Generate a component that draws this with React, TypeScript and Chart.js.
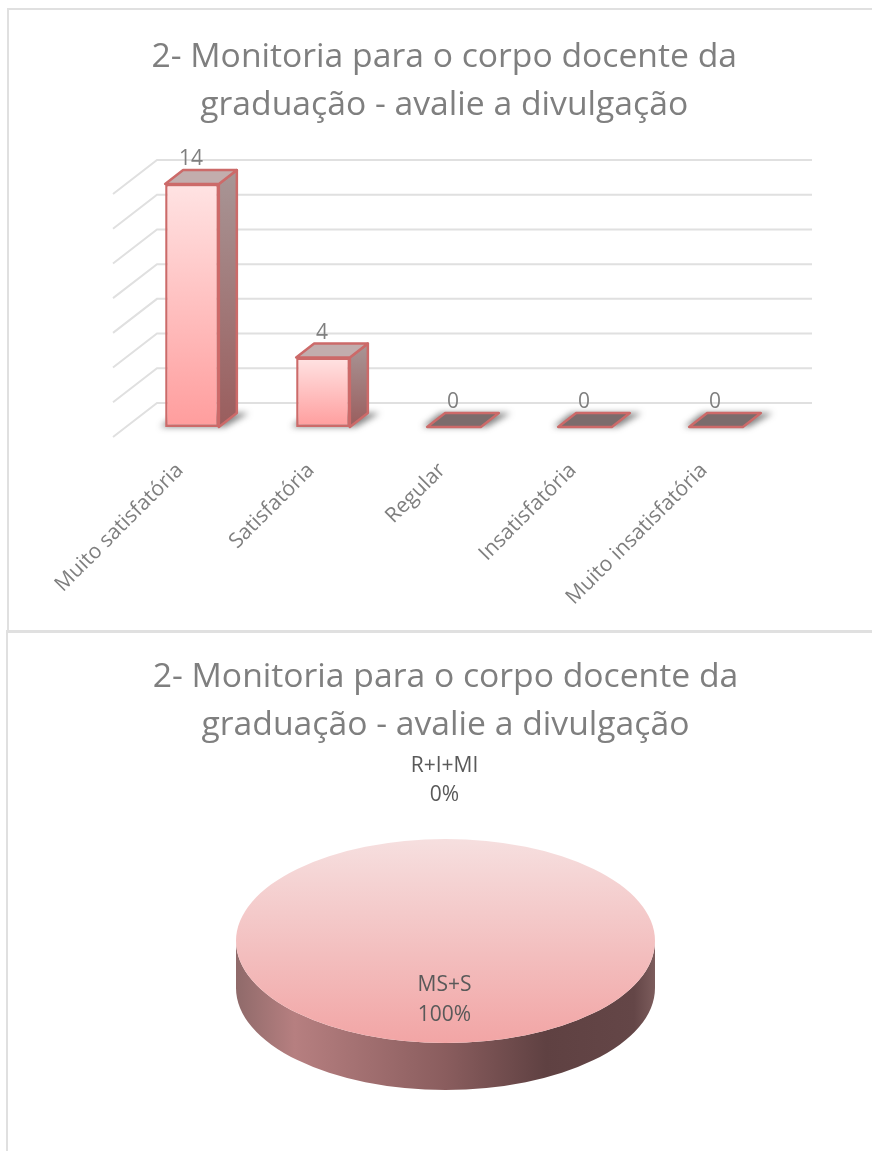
import React, { useEffect, useRef } from "react";
import { Chart, registerables } from "chart.js";

Chart.register(...registerables);

const titleLines = ["2- Monitoria para o corpo docente da", "graduação - avalie a divulgação"];
const categories = ["Muito satisfatória", "Satisfatória", "Regular", "Insatisfatória", "Muito insatisfatória"];
const counts = [14, 4, 0, 0, 0];
const pieLabels = ["MS+S", "R+I+MI"];
const pieValues = [100, 0];

const FONT = "'Open Sans', sans-serif";
const TITLE_COLOR = "#7f7f7f";
const BAR_EDGE = "#cc6a69";
const DEPTH_X = 18;
const DEPTH_Y = 14;
const WALL_X = 30.5;
const WALL_Y = 24;

function poly(ctx: CanvasRenderingContext2D, pts: number[][]) {
  ctx.beginPath();
  pts.forEach((p, i) => (i ? ctx.lineTo(p[0], p[1]) : ctx.moveTo(p[0], p[1])));
  ctx.closePath();
}

const bar3d = {
  id: "bar3d",
  beforeDatasetsDraw(chart: any) {
    const { ctx, chartArea, scales } = chart;
    const left = chartArea.left + WALL_X;
    const right = chartArea.right + WALL_X;
    ctx.save();
    ctx.strokeStyle = "#e0e0e0";
    ctx.lineWidth = 2;
    scales.y.ticks.forEach((t: any) => {
      const y = scales.y.getPixelForValue(t.value) - WALL_Y;
      ctx.beginPath();
      ctx.moveTo(left - 44, y + 34);
      ctx.lineTo(left, y);
      ctx.lineTo(right, y);
      ctx.stroke();
    });
    const meta = chart.getDatasetMeta(0);
    const halfW = meta.data[0].width / 2;
    meta.data.forEach((el: any, i: number) => {
      const x0 = el.x - halfW;
      const x1 = el.x + halfW;
      const top = scales.y.getPixelForValue(counts[i]);
      const base = scales.y.getPixelForValue(0);
      ctx.save();
      ctx.filter = "blur(3px)";
      ctx.fillStyle = "rgba(50,50,50,0.6)";
      poly(ctx, [[x0 - 5, base], [x1 + 6, base], [x1 + DEPTH_X + 12, base - DEPTH_Y], [x0 + DEPTH_X - 5, base - DEPTH_Y]]);
      ctx.fill();
      ctx.restore();

      ctx.lineJoin = "round";
      ctx.lineWidth = 2.5;
      ctx.strokeStyle = BAR_EDGE;
      if (counts[i] > 0) {
        const g = ctx.createLinearGradient(0, top - DEPTH_Y, 0, base);
        g.addColorStop(0, "#a89696");
        g.addColorStop(1, "#9a5d5d");
        ctx.fillStyle = g;
        poly(ctx, [[x1, top], [x1 + DEPTH_X, top - DEPTH_Y], [x1 + DEPTH_X, base - DEPTH_Y], [x1, base]]);
        ctx.fill();
        ctx.stroke();
      }
      ctx.fillStyle = counts[i] > 0 ? "#c2adad" : "#7b6c6c";
      poly(ctx, [[x0, top], [x1, top], [x1 + DEPTH_X, top - DEPTH_Y], [x0 + DEPTH_X, top - DEPTH_Y]]);
      ctx.fill();
      ctx.stroke();
    });
    ctx.restore();
  },
  afterDatasetsDraw(chart: any) {
    const { ctx, scales } = chart;
    const meta = chart.getDatasetMeta(0);
    ctx.save();
    ctx.font = `21px ${FONT}`;
    ctx.fillStyle = TITLE_COLOR;
    ctx.textAlign = "center";
    ctx.textBaseline = "middle";
    meta.data.forEach((el: any, i: number) => {
      ctx.fillText(String(counts[i]), el.x - 1, scales.y.getPixelForValue(counts[i]) - 25);
    });
    ctx.restore();
  },
};

const PIE_DEPTH = 47;
const PIE_FLAT = 102 / 209.5;

const pie3d = {
  id: "pie3d",
  beforeDatasetDraw(chart: any) {
    const { ctx } = chart;
    const arc = chart.getDatasetMeta(0).data[0];
    const { x, y, outerRadius: r } = arc;
    const ry = r * PIE_FLAT;
    ctx.save();
    const g = ctx.createLinearGradient(x - r, 0, x + r, 0);
    g.addColorStop(0, "#8f6a6a");
    g.addColorStop(0.14, "#b67f80");
    g.addColorStop(0.5, "#8a5d5e");
    g.addColorStop(0.74, "#5f4142");
    g.addColorStop(0.95, "#644647");
    g.addColorStop(1, "#7c5c5c");
    ctx.fillStyle = g;
    ctx.beginPath();
    ctx.ellipse(x, y, r, ry, 0, Math.PI, 0, true);
    ctx.lineTo(x + r, y + PIE_DEPTH);
    ctx.ellipse(x, y + PIE_DEPTH, r, ry, 0, 0, Math.PI);
    ctx.closePath();
    ctx.fill();
    ctx.restore();
    ctx.save();
    ctx.translate(x, y);
    ctx.scale(1, PIE_FLAT);
    ctx.translate(-x, -y);
  },
  afterDatasetDraw(chart: any) {
    const { ctx } = chart;
    ctx.restore();
    const { x, y } = chart.getDatasetMeta(0).data[0];
    ctx.save();
    ctx.font = `21px ${FONT}`;
    ctx.fillStyle = "#595959";
    ctx.textAlign = "center";
    ctx.textBaseline = "middle";
    const slots = [[44, 74], [-175, -146]];
    pieLabels.forEach((label, i) => {
      ctx.fillText(label, x - 1, y + slots[i][0]);
      ctx.fillText(`${pieValues[i]}%`, x - 1, y + slots[i][1]);
    });
    ctx.restore();
  },
};

function titleOption(top: number, bottom: number) {
  return {
    display: true,
    text: titleLines,
    color: TITLE_COLOR,
    font: { family: FONT, size: 33.7, weight: "normal" as const, lineHeight: 48 / 33.7 },
    padding: { top, bottom },
  };
}

const SOFT = "blur(0.4px)";

export default function App() {
  const barRef = useRef<HTMLCanvasElement>(null);
  const pieRef = useRef<HTMLCanvasElement>(null);

  useEffect(() => {
    const bar = new Chart(barRef.current!, {
      type: "bar",
      data: {
        labels: categories,
        datasets: [
          {
            data: counts,
            categoryPercentage: 0.41,
            barPercentage: 1,
            borderColor: BAR_EDGE,
            borderWidth: 2.5,
            borderSkipped: false,
            backgroundColor: (c: any) => {
              const { chart, dataIndex } = c;
              if (!chart.chartArea || dataIndex === undefined) return "#ffc0c0";
              const y = chart.scales.y;
              const g = chart.ctx.createLinearGradient(0, y.getPixelForValue(counts[dataIndex]), 0, y.getPixelForValue(0));
              g.addColorStop(0, "#ffe3e3");
              g.addColorStop(1, "#ff9d9d");
              return g;
            },
          } as any,
        ],
      },
      options: {
        animation: false,
        responsive: false,
        layout: { padding: { left: 98, right: 90.5, top: 0, bottom: 0 } },
        plugins: { legend: { display: false }, tooltip: { enabled: false }, title: titleOption(23, 55) },
        scales: {
          y: {
            min: 0,
            max: 14,
            grid: { display: false },
            border: { display: false },
            ticks: { stepSize: 2, display: false },
            afterFit: (s: any) => {
              s.width = 19.5;
              s.paddingTop = 0;
              s.paddingBottom = 0;
            },
          },
          x: {
            grid: { display: false },
            border: { display: false },
            ticks: {
              color: TITLE_COLOR,
              font: { family: FONT, size: 21 },
              minRotation: 45,
              maxRotation: 45,
              autoSkip: false,
              padding: 23,
              labelOffset: -12,
            },
            afterFit: (s: any) => {
              s.height = 203;
              s.paddingLeft = 0;
              s.paddingRight = 0;
            },
          },
        },
      },
      plugins: [bar3d],
    });

    const pie = new Chart(pieRef.current!, {
      type: "pie",
      data: {
        labels: pieLabels,
        datasets: [
          {
            data: pieValues,
            radius: 209.5,
            borderWidth: 0,
            backgroundColor: (c: any) => {
              const { chart } = c;
              if (!chart.chartArea) return "#f3bfbf";
              const cy = (chart.chartArea.top + chart.chartArea.bottom) / 2;
              const g = chart.ctx.createLinearGradient(0, cy - 209.5, 0, cy + 209.5);
              g.addColorStop(0, "#f6dfdf");
              g.addColorStop(0.55, "#f3bfbf");
              g.addColorStop(1, "#f2a5a5");
              return g;
            },
          } as any,
        ],
      },
      options: {
        animation: false,
        responsive: false,
        layout: { padding: { left: 0, right: 0, top: 0, bottom: 19 } },
        plugins: { legend: { display: false }, tooltip: { enabled: false }, title: titleOption(21, 1) },
      },
      plugins: [pie3d],
    });

    return () => {
      bar.destroy();
      pie.destroy();
    };
  }, []);

  return (
    <div style={{ position: "fixed", left: 0, top: 0, width: 872, height: 1151, overflow: "hidden", background: "#fff" }}>
      <div style={{ position: "absolute", left: 7, top: 8, width: 880, height: 621, border: "2px solid #e0e0e0" }} />
      <div style={{ position: "absolute", left: 6, top: 630, width: 880, height: 540, border: "2px solid #e0e0e0" }} />
      <canvas ref={barRef} width={863} height={620} style={{ position: "absolute", left: 9, top: 10, width: 863, height: 620, filter: SOFT }} />
      <canvas ref={pieRef} width={879} height={519} style={{ position: "absolute", left: 6, top: 632, width: 879, height: 519, filter: SOFT }} />
    </div>
  );
}
